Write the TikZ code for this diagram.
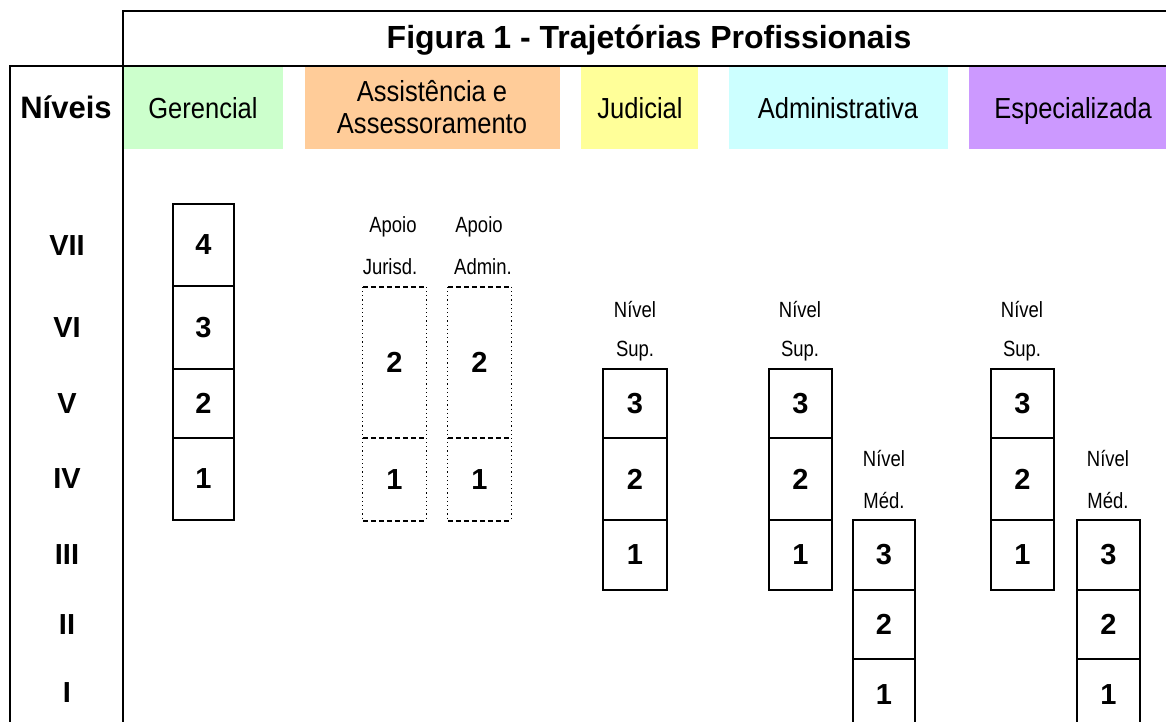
\documentclass[tikz,border=0pt]{standalone}
\usepackage{fontspec}
\setmainfont{Liberation Sans}
\newfontfamily\narrowfont[FakeStretch=0.88]{Liberation Sans}
\newfontfamily\smallnarrow[FakeStretch=0.84]{Liberation Sans}
\definecolor{cgreen}{HTML}{CCFFCC}
\definecolor{corange}{HTML}{FFCC99}
\definecolor{cyellow}{HTML}{FFFF99}
\definecolor{ccyan}{HTML}{CCFFFF}
\definecolor{cpurple}{HTML}{CC99FF}
\begin{document}
\begin{tikzpicture}[x=1pt,y=-1pt,
 frame/.style={line width=2.8pt},
 hbox/.style={inner sep=0, minimum height=82pt, anchor=north west},
 htext/.style={font=\narrowfont\fontsize{29}{32}\selectfont, inner sep=0, anchor=base},
 lvl/.style={font=\bfseries\fontsize{29}{32}\selectfont, inner sep=0},
 cell/.style={draw, line width=2.4pt, inner sep=0, font=\bfseries\fontsize{29}{32}\selectfont},
 ghost/.style={inner sep=0, font=\bfseries\fontsize{29}{32}\selectfont},
 lbl/.style={font=\smallnarrow\fontsize{22}{24}\selectfont, inner sep=0, anchor=base},
 dashedge/.style={line width=2.2pt, dash pattern=on 5pt off 3pt},
 dotedge/.style={line width=1.1pt, dash pattern=on 1.2pt off 3pt},
]
\useasboundingbox (0,0) rectangle (1166,722);
\begin{scope}
\clip (0,0) rectangle (1166,722);

% header colour boxes
\node[hbox, fill=cgreen, minimum width=159pt] (hg) at (124,67) {};
\node[hbox, fill=corange, minimum width=254.5pt] (ha) at (305,67) {};
\node[hbox, fill=cyellow, minimum width=117pt] (hj) at (581,67) {};
\node[hbox, fill=ccyan, minimum width=219.5pt] (hd) at (728.5,67) {};
\node[hbox, fill=cpurple, minimum width=197pt] (he) at (969,67) {};

\node[htext] (tg) at (203,119) {Gerencial};
\node[htext] (ta1) at (432,102) {Assistência e};
\node[htext] (ta2) at (432,134) {Assessoramento};
\node[htext] (tj) at (640,119) {Judicial};
\node[htext] (td) at (838,119) {Administrativa};
\node[htext] (te) at (1073,119) {Especializada};

% frame
\coordinate (f1) at (123,722);
\coordinate (f2) at (123,11);
\coordinate (f3) at (1166,11);
\coordinate (f4) at (10,722);
\coordinate (f5) at (10,66);
\coordinate (f6) at (1166,66);
\draw[frame] (f1) -- (f2) -- (f3);
\draw[frame] (f4) -- (f5) -- (f6);

\node[font=\bfseries\fontsize{32}{35}\selectfont, inner sep=0, anchor=base] (title) at (649,49) {Figura 1 - Trajetórias Profissionais};
\node[font=\bfseries\fontsize{31}{34}\selectfont, inner sep=0, anchor=base] (niveis) at (66,119) {Níveis};

% level labels
\node[lvl] (l7) at (67,245.5) {VII};
\node[lvl] (l6) at (67,328) {VI};
\node[lvl] (l5) at (67,403.5) {V};
\node[lvl] (l4) at (67,479) {IV};
\node[lvl] (l3) at (67,555) {III};
\node[lvl] (l2) at (67,625) {II};
\node[lvl] (l1) at (67,693) {I};

% Gerencial
\node[cell, minimum width=61pt, minimum height=82pt] (g4) at (203.5,245) {4};
\node[cell, minimum width=61pt, minimum height=83pt] (g3) at (203.5,327.5) {3};
\node[cell, minimum width=61pt, minimum height=69pt] (g2) at (203.5,403.5) {2};
\node[cell, minimum width=61pt, minimum height=82pt] (g1) at (203.5,479) {1};

% Apoio labels
\node[lbl] (apj1) at (393,232) {Apoio};
\node[lbl] (apj2) at (390,274) {Jurisd.};
\node[lbl] (apa1) at (479,232) {Apoio};
\node[lbl] (apa2) at (483,274) {Admin.};

% Apoio cells
\node[ghost, minimum width=63pt, minimum height=151pt] (aj2) at (394.5,362.5) {2};
\node[ghost, minimum width=63pt, minimum height=83pt] (aj1) at (394.5,479.5) {1};
\node[ghost, minimum width=63pt, minimum height=151pt] (aa2) at (479.5,362.5) {2};
\node[ghost, minimum width=63pt, minimum height=83pt] (aa1) at (479.5,479.5) {1};
\foreach \n in {aj2,aj1,aa2,aa1}{
  \draw[dashedge] (\n.north west) -- (\n.north east);
  \draw[dotedge] (\n.north west) -- (\n.south west);
  \draw[dotedge] (\n.north east) -- (\n.south east);
}
\draw[dashedge] (aj1.south west) -- (aj1.south east);
\draw[dashedge] (aa1.south west) -- (aa1.south east);

% Nivel Sup. / Med. labels
\node[lbl] (ns1a) at (635,317) {Nível};
\node[lbl] (ns1b) at (635,356) {Sup.};
\node[lbl] (ns2a) at (800,317) {Nível};
\node[lbl] (ns2b) at (800,356) {Sup.};
\node[lbl] (ns3a) at (1022,317) {Nível};
\node[lbl] (ns3b) at (1022,356) {Sup.};
\node[lbl] (nm1a) at (884,466) {Nível};
\node[lbl] (nm1b) at (884,508) {Méd.};
\node[lbl] (nm2a) at (1108,466) {Nível};
\node[lbl] (nm2b) at (1108,508) {Méd.};

% Judicial Sup
\node[cell, minimum width=64pt, minimum height=69pt] (j3) at (635,403.5) {3};
\node[cell, minimum width=64pt, minimum height=82pt] (j2) at (635,479) {2};
\node[cell, minimum width=64pt, minimum height=70pt] (j1) at (635,555) {1};
% Admin Sup
\node[cell, minimum width=63pt, minimum height=69pt] (d3) at (800.5,403.5) {3};
\node[cell, minimum width=63pt, minimum height=82pt] (d2) at (800.5,479) {2};
\node[cell, minimum width=63pt, minimum height=70pt] (d1) at (800.5,555) {1};
% Especializada Sup
\node[cell, minimum width=63pt, minimum height=69pt] (e3) at (1022.5,403.5) {3};
\node[cell, minimum width=63pt, minimum height=82pt] (e2) at (1022.5,479) {2};
\node[cell, minimum width=63pt, minimum height=70pt] (e1) at (1022.5,555) {1};
% Admin Med
\node[cell, minimum width=62pt, minimum height=70pt] (dm3) at (884,555) {3};
\node[cell, minimum width=62pt, minimum height=69pt] (dm2) at (884,624.5) {2};
\node[cell, minimum width=62pt, minimum height=72pt] (dm1) at (884,695) {1};
% Especializada Med
\node[cell, minimum width=63pt, minimum height=70pt] (em3) at (1108.5,555) {3};
\node[cell, minimum width=63pt, minimum height=69pt] (em2) at (1108.5,624.5) {2};
\node[cell, minimum width=63pt, minimum height=72pt] (em1) at (1108.5,695) {1};
\end{scope}
\end{tikzpicture}
\end{document}
